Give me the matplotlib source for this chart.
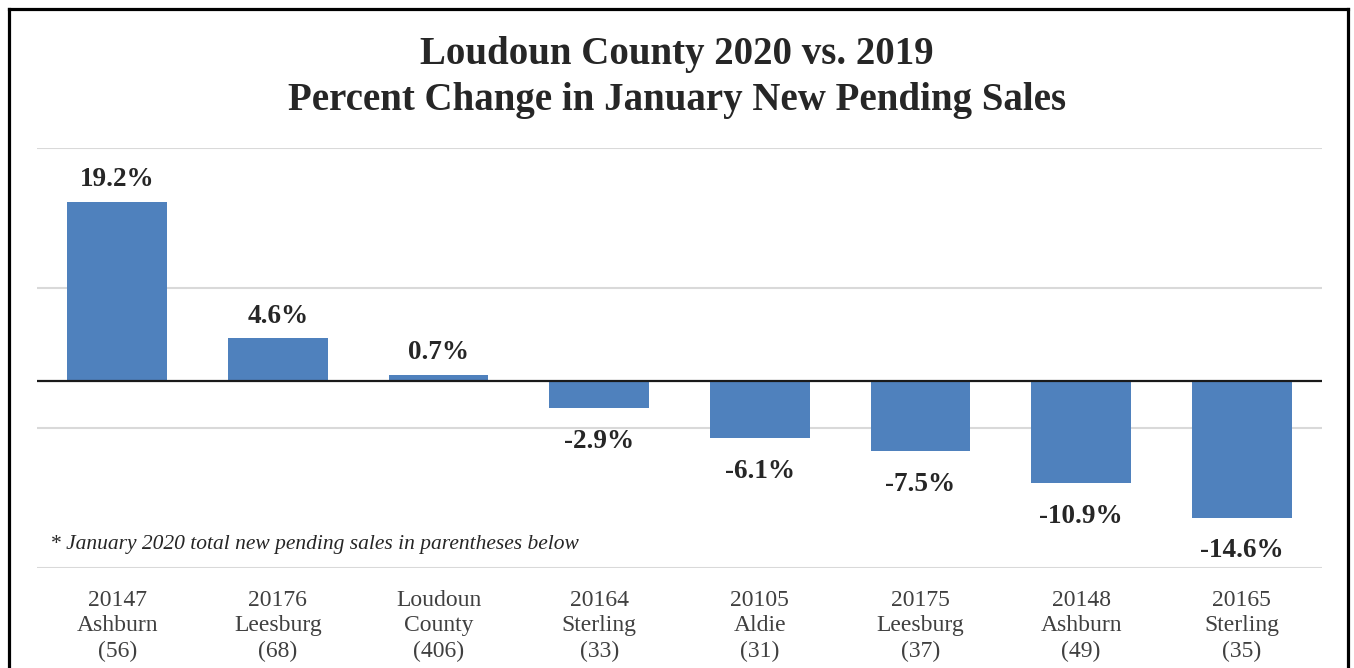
import matplotlib.pyplot as plt
from matplotlib.lines import Line2D
import numpy as np

# values
zips = ['20147', '20176', 'Loudoun', '20164', '20105', '20175', '20148', '20165']
places = ['Ashburn', 'Leesburg', 'County', 'Sterling', 'Aldie', 'Leesburg', 'Ashburn', 'Sterling']
sales = [56, 68, 406, 33, 31, 37, 49, 35]
pct_change = [19.2, 4.6, 0.7, -2.9, -6.1, -7.5, -10.9, -14.6]

labels = ['%s\n%s\n(%d)' % (z, p, s) for z, p, s in zip(zips, places, sales)]

plt.rcParams['font.family'] = ['Liberation Serif', 'DejaVu Serif']

fig = plt.figure(figsize=(13.54, 6.68), dpi=100)
ax = fig.add_axes([0.0273, 0.1497, 0.9491, 0.6287])

x = np.arange(len(pct_change))
bars = ax.bar(x, pct_change, width=0.62, color='#4F81BD', zorder=3)

ax.set_xlim(-0.5, len(pct_change) - 0.5)
ax.set_ylim(-20, 25)
ax.set_yticks([-20, -5, 10, 25])
ax.yaxis.grid(True, color='#D9D9D9', linewidth=1.5, zorder=0)
ax.tick_params(axis='y', left=False, labelleft=False)
ax.axhline(0, color='#1a1a1a', linewidth=1.6, zorder=4)
for s in ax.spines.values():
    s.set_visible(False)

ax.set_xticks(x)
ax.set_xticklabels(labels, fontsize=17, color='#404040', linespacing=1.3)
ax.tick_params(axis='x', bottom=False, pad=12)

# data labels
for xi, v in zip(x, pct_change):
    if v >= 0:
        ax.annotate('%.1f%%' % v, (xi, v), xytext=(0, 7), textcoords='offset points',
                    ha='center', va='bottom', fontsize=19.5, fontweight='bold', color='#262626')
    else:
        ax.annotate('%.1f%%' % v, (xi, v), xytext=(0, -15), textcoords='offset points',
                    ha='center', va='top', fontsize=19.5, fontweight='bold', color='#262626')

ax.text(0.01, -17.5, '* January 2020 total new pending sales in parentheses below',
        transform=ax.get_yaxis_transform(), fontsize=15.5, style='italic',
        color='#262626', va='center', ha='left')

fig.text(0.5, 0.884, 'Loudoun County 2020 vs. 2019\nPercent Change in January New Pending Sales',
         ha='center', va='center', fontsize=28, fontweight='bold', color='#262626',
         linespacing=1.3)

# frame around the chart (bottom edge is cut off in the original)
lw = 2.3
fig.add_artist(Line2D([0.0066, 0.0066], [0, 0.9865], color='black', linewidth=lw))
fig.add_artist(Line2D([0.0066, 0.9955], [0.9865, 0.9865], color='black', linewidth=lw))
fig.add_artist(Line2D([0.9955, 0.9955], [0, 0.9865], color='black', linewidth=lw))

plt.savefig('out.png', dpi=100)
